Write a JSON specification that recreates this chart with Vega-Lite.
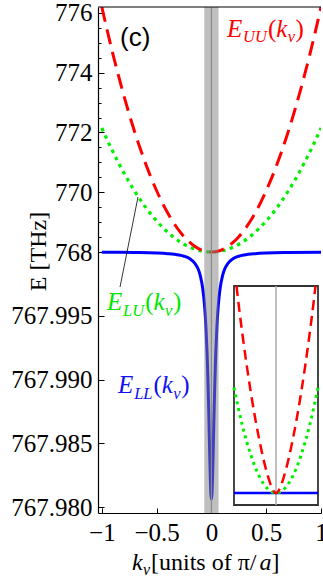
{
  "$schema": "https://vega.github.io/schema/vega-lite/v6.json",
  "width": 223,
  "height": 506,
  "autosize": {"type": "none"},
  "padding": {"left": 98, "top": 7, "right": 2, "bottom": 68},
  "background": "white",
  "data": {"values": [{}]},
  "datasets": {
    "red": [
      {"k": -1, "E": 776.2}, {"k": -0.95, "E": 775.4005}, {"k": -0.9, "E": 774.642}, {"k": -0.85, "E": 773.9245},
      {"k": -0.8, "E": 773.248}, {"k": -0.75, "E": 772.6125}, {"k": -0.7, "E": 772.018}, {"k": -0.65, "E": 771.4645},
      {"k": -0.6, "E": 770.952}, {"k": -0.55, "E": 770.4805}, {"k": -0.5, "E": 770.05}, {"k": -0.45, "E": 769.6605},
      {"k": -0.4, "E": 769.312}, {"k": -0.35, "E": 769.0045}, {"k": -0.3, "E": 768.738}, {"k": -0.25, "E": 768.5125},
      {"k": -0.2, "E": 768.328}, {"k": -0.15, "E": 768.1845}, {"k": -0.1, "E": 768.082}, {"k": -0.05, "E": 768.0205},
      {"k": 0, "E": 768},
      {"k": 0.05, "E": 768.0205}, {"k": 0.1, "E": 768.082}, {"k": 0.15, "E": 768.1845}, {"k": 0.2, "E": 768.328},
      {"k": 0.25, "E": 768.5125}, {"k": 0.3, "E": 768.738}, {"k": 0.35, "E": 769.0045}, {"k": 0.4, "E": 769.312},
      {"k": 0.45, "E": 769.6605}, {"k": 0.5, "E": 770.05}, {"k": 0.55, "E": 770.4805}, {"k": 0.6, "E": 770.952},
      {"k": 0.65, "E": 771.4645}, {"k": 0.7, "E": 772.018}, {"k": 0.75, "E": 772.6125}, {"k": 0.8, "E": 773.248},
      {"k": 0.85, "E": 773.9245}, {"k": 0.9, "E": 774.642}, {"k": 0.95, "E": 775.4005}, {"k": 1, "E": 776.2}
    ],
    "green": [
      {"k": -1, "E": 772.15}, {"k": -0.95, "E": 771.7454}, {"k": -0.9, "E": 771.3615}, {"k": -0.85, "E": 770.9984},
      {"k": -0.8, "E": 770.656}, {"k": -0.75, "E": 770.3344}, {"k": -0.7, "E": 770.0335}, {"k": -0.65, "E": 769.7534},
      {"k": -0.6, "E": 769.494}, {"k": -0.55, "E": 769.2554}, {"k": -0.5, "E": 769.0375}, {"k": -0.45, "E": 768.8404},
      {"k": -0.4, "E": 768.664}, {"k": -0.35, "E": 768.5084}, {"k": -0.3, "E": 768.3735}, {"k": -0.25, "E": 768.2594},
      {"k": -0.2, "E": 768.166}, {"k": -0.15, "E": 768.0934}, {"k": -0.1, "E": 768.0415}, {"k": -0.05, "E": 768.0104},
      {"k": 0, "E": 768},
      {"k": 0.05, "E": 768.0104}, {"k": 0.1, "E": 768.0415}, {"k": 0.15, "E": 768.0934}, {"k": 0.2, "E": 768.166},
      {"k": 0.25, "E": 768.2594}, {"k": 0.3, "E": 768.3735}, {"k": 0.35, "E": 768.5084}, {"k": 0.4, "E": 768.664},
      {"k": 0.45, "E": 768.8404}, {"k": 0.5, "E": 769.0375}, {"k": 0.55, "E": 769.2554}, {"k": 0.6, "E": 769.494},
      {"k": 0.65, "E": 769.7534}, {"k": 0.7, "E": 770.0335}, {"k": 0.75, "E": 770.3344}, {"k": 0.8, "E": 770.656},
      {"k": 0.85, "E": 770.9984}, {"k": 0.9, "E": 771.3615}, {"k": 0.95, "E": 771.7454}, {"k": 1, "E": 772.15}
    ],
    "blue": [
      {"k": -1, "E": 767.99998}, {"k": -0.7, "E": 767.99996}, {"k": -0.5, "E": 767.99992}, {"k": -0.4, "E": 767.99987},
      {"k": -0.3, "E": 767.99977}, {"k": -0.25, "E": 767.99967}, {"k": -0.2, "E": 767.99949}, {"k": -0.15, "E": 767.9991},
      {"k": -0.12, "E": 767.99864}, {"k": -0.1, "E": 767.99809}, {"k": -0.08, "E": 767.99718}, {"k": -0.07, "E": 767.99647},
      {"k": -0.06, "E": 767.99549}, {"k": -0.05, "E": 767.99411}, {"k": -0.04, "E": 767.99214}, {"k": -0.035, "E": 767.99087},
      {"k": -0.03, "E": 767.98938}, {"k": -0.025, "E": 767.98767}, {"k": -0.02, "E": 767.98581}, {"k": -0.015, "E": 767.98392},
      {"k": -0.01, "E": 767.98223}, {"k": -0.005, "E": 767.98104}, {"k": 0, "E": 767.9806},
      {"k": 0.005, "E": 767.98104}, {"k": 0.01, "E": 767.98223}, {"k": 0.015, "E": 767.98392}, {"k": 0.02, "E": 767.98581},
      {"k": 0.025, "E": 767.98767}, {"k": 0.03, "E": 767.98938}, {"k": 0.035, "E": 767.99087}, {"k": 0.04, "E": 767.99214},
      {"k": 0.05, "E": 767.99411}, {"k": 0.06, "E": 767.99549}, {"k": 0.07, "E": 767.99647}, {"k": 0.08, "E": 767.99718},
      {"k": 0.1, "E": 767.99809}, {"k": 0.12, "E": 767.99864}, {"k": 0.15, "E": 767.9991}, {"k": 0.2, "E": 767.99949},
      {"k": 0.25, "E": 767.99967}, {"k": 0.3, "E": 767.99977}, {"k": 0.4, "E": 767.99987}, {"k": 0.5, "E": 767.99992},
      {"k": 0.7, "E": 767.99996}, {"k": 1, "E": 767.99998}
    ],
    "ired": [
      {"ki": -0.94, "hi": 1.0}, {"ki": -0.9, "hi": 0.929}, {"ki": -0.8, "hi": 0.768}, {"ki": -0.7, "hi": 0.621},
      {"ki": -0.6, "hi": 0.487}, {"ki": -0.5, "hi": 0.366}, {"ki": -0.4, "hi": 0.259}, {"ki": -0.3, "hi": 0.165},
      {"ki": -0.2, "hi": 0.087}, {"ki": -0.15, "hi": 0.054}, {"ki": -0.1, "hi": 0.027}, {"ki": -0.05, "hi": 0.0074},
      {"ki": 0, "hi": 0},
      {"ki": 0.05, "hi": 0.0074}, {"ki": 0.1, "hi": 0.027}, {"ki": 0.15, "hi": 0.054}, {"ki": 0.2, "hi": 0.087},
      {"ki": 0.3, "hi": 0.165}, {"ki": 0.4, "hi": 0.259}, {"ki": 0.5, "hi": 0.366}, {"ki": 0.6, "hi": 0.487},
      {"ki": 0.7, "hi": 0.621}, {"ki": 0.8, "hi": 0.768}, {"ki": 0.9, "hi": 0.929}, {"ki": 0.94, "hi": 1.0}
    ],
    "igreen": [
      {"ki": -1, "hi": 0.51}, {"ki": -0.9, "hi": 0.413}, {"ki": -0.8, "hi": 0.326}, {"ki": -0.7, "hi": 0.25},
      {"ki": -0.6, "hi": 0.184}, {"ki": -0.5, "hi": 0.1275}, {"ki": -0.4, "hi": 0.0816}, {"ki": -0.3, "hi": 0.0459},
      {"ki": -0.2, "hi": 0.0204}, {"ki": -0.1, "hi": 0.0051}, {"ki": 0, "hi": 0},
      {"ki": 0.1, "hi": 0.0051}, {"ki": 0.2, "hi": 0.0204}, {"ki": 0.3, "hi": 0.0459}, {"ki": 0.4, "hi": 0.0816},
      {"ki": 0.5, "hi": 0.1275}, {"ki": 0.6, "hi": 0.184}, {"ki": 0.7, "hi": 0.25}, {"ki": 0.8, "hi": 0.326},
      {"ki": 0.9, "hi": 0.413}, {"ki": 1, "hi": 0.51}
    ],
    "iblue": [
      {"ki": -1, "hi": 0}, {"ki": 1, "hi": 0}
    ]
  },
  "layer": [
    {
      "layer": [
        {
          "data": {"name": "blue"},
          "mark": {"type": "line", "color": "#0000ff", "strokeWidth": 3, "interpolate": "monotone", "clip": true},
          "encoding": {
            "x": {"field": "k", "type": "quantitative", "scale": {"domain": [-1.035, 1], "nice": false, "zero": false},
              "axis": {"values": [-1, -0.5, 0, 0.5, 1], "tickCount": 20, "format": "~g", "title": null, "tickSize": -5, "labelPadding": 12, "labelOverlap": false, "labelFlush": false}},
            "y": {"field": "E", "type": "quantitative", "scale": {"domain": [767.97953, 768, 776.2], "range": [506, 245, 0], "nice": false, "zero": false},
              "axis": {
                "values": [767.98, 767.985, 767.99, 767.995, 768, 768.5, 769, 769.5, 770, 770.5, 771, 771.5, 772, 772.5, 773, 773.5, 774, 774.5, 775, 775.5, 776],
                "tickCount": 60,
                "labelExpr": "datum.value >= 768 ? (datum.value % 2 == 0 ? format(datum.value, 'd') : '') : format(datum.value, '.3f')",
                "labelFontSize": {"condition": {"test": "datum.value > 768 && datum.value % 2 != 0", "value": 1}, "value": 25},
                "tickSize": {"condition": {"test": "datum.value > 768 && datum.value % 2 != 0", "value": -3}, "value": -6},
                "labelPadding": 12,
                "labelOverlap": false,
                "labelFlush": false,
                "title": "E [THz]",
                "titleX": -53, "titleY": 244, "titleAngle": -90, "titleBaseline": "alphabetic", "titleAlign": "center"
              }}
          }
        },
        {
          "data": {"name": "green"},
          "mark": {"type": "line", "color": "#00f000", "strokeWidth": 3.2, "strokeDash": [3.5, 4.5], "interpolate": "monotone", "clip": true},
          "encoding": {
            "x": {"field": "k", "type": "quantitative", "scale": {"domain": [-1.035, 1], "nice": false, "zero": false}, "title": null},
            "y": {"field": "E", "type": "quantitative", "scale": {"domain": [767.97953, 768, 776.2], "range": [506, 245, 0], "nice": false, "zero": false}, "title": "E [THz]"}
          }
        },
        {
          "data": {"name": "red"},
          "mark": {"type": "line", "color": "#ff0000", "strokeWidth": 3, "strokeDash": [15, 8], "interpolate": "monotone", "clip": true},
          "encoding": {
            "x": {"field": "k", "type": "quantitative", "scale": {"domain": [-1.035, 1], "nice": false, "zero": false}, "title": null},
            "y": {"field": "E", "type": "quantitative", "scale": {"domain": [767.97953, 768, 776.2], "range": [506, 245, 0], "nice": false, "zero": false}, "title": "E [THz]"}
          }
        },
        {
          "mark": {"type": "rect", "color": "#808080", "opacity": 0.5},
          "encoding": {
            "x": {"datum": -0.065, "type": "quantitative"}, "x2": {"datum": 0.065},
            "y": {"datum": 767.97953, "type": "quantitative"}, "y2": {"datum": 776.2}
          }
        },
        {
          "mark": {"type": "rule", "color": "#8a8a8a", "strokeWidth": 1.2},
          "encoding": {"x": {"datum": 0, "type": "quantitative"}}
        },
        {
          "mark": {"type": "rule", "color": "black", "strokeWidth": 1.2},
          "encoding": {"y": {"datum": 776.2, "type": "quantitative"}}
        },
        {
          "mark": {"type": "rule", "color": "black", "strokeWidth": 0.8},
          "encoding": {
            "x": {"datum": -0.834, "type": "quantitative"}, "x2": {"datum": -0.67},
            "y": {"datum": 767.99725, "type": "quantitative"}, "y2": {"datum": 769.84}
          }
        },
        {
          "mark": {"type": "text", "text": "(c)", "font": "Liberation Sans", "fontStyle": "normal", "fontSize": 26, "color": "black"},
          "encoding": {"x": {"datum": -0.834, "type": "quantitative"}, "y": {"datum": 774.895, "type": "quantitative"}}
        },
        {
          "encoding": {"x": {"datum": 0.142, "type": "quantitative"}, "y": {"datum": 775.196, "type": "quantitative"}, "color": {"value": "#ff0000"}},
          "layer": [
            {"mark": {"type": "text", "text": "E"}},
            {"mark": {"type": "text", "text": "UU", "dx": 16.1, "dy": 5.5, "fontSize": 16.5}},
            {"mark": {"type": "text", "text": "(", "dx": 40.9, "fontStyle": "normal"}},
            {"mark": {"type": "text", "text": "k", "dx": 49.3}},
            {"mark": {"type": "text", "text": "ν", "dx": 60.7, "dy": 5.5, "fontSize": 16.5}},
            {"mark": {"type": "text", "text": ")", "dx": 68.6, "fontStyle": "normal"}}
          ]
        },
        {
          "encoding": {"x": {"datum": -0.953, "type": "quantitative"}, "y": {"datum": 767.99545, "type": "quantitative"}, "color": {"value": "#00e600"}},
          "layer": [
            {"mark": {"type": "text", "text": "E"}},
            {"mark": {"type": "text", "text": "LU", "dx": 16.1, "dy": 5.5, "fontSize": 16.5}},
            {"mark": {"type": "text", "text": "(", "dx": 38.2, "fontStyle": "normal"}},
            {"mark": {"type": "text", "text": "k", "dx": 46.6}},
            {"mark": {"type": "text", "text": "ν", "dx": 58, "dy": 5.5, "fontSize": 16.5}},
            {"mark": {"type": "text", "text": ")", "dx": 65.9, "fontStyle": "normal"}}
          ]
        },
        {
          "encoding": {"x": {"datum": -0.852, "type": "quantitative"}, "y": {"datum": 767.98894, "type": "quantitative"}, "color": {"value": "#1010f0"}},
          "layer": [
            {"mark": {"type": "text", "text": "E"}},
            {"mark": {"type": "text", "text": "LL", "dx": 16.1, "dy": 5.5, "fontSize": 16.5}},
            {"mark": {"type": "text", "text": "(", "dx": 35.4, "fontStyle": "normal"}},
            {"mark": {"type": "text", "text": "k", "dx": 43.8}},
            {"mark": {"type": "text", "text": "ν", "dx": 55.2, "dy": 5.5, "fontSize": 16.5}},
            {"mark": {"type": "text", "text": ")", "dx": 63.1, "fontStyle": "normal"}}
          ]
        },
        {
          "encoding": {"x": {"datum": -0.7245, "type": "quantitative"}, "y": {"datum": 767.97506, "type": "quantitative"}, "color": {"value": "black"}},
          "layer": [
            {"mark": {"type": "text", "text": "k", "fontSize": 24}},
            {"mark": {"type": "text", "text": "ν", "dx": 11, "dy": 5, "fontSize": 16}},
            {"mark": {"type": "text", "text": "[units of π/", "dx": 19, "fontStyle": "normal", "fontSize": 24}},
            {"mark": {"type": "text", "text": "a", "dx": 127.5, "fontSize": 24}},
            {"mark": {"type": "text", "text": "]", "dx": 139.5, "fontStyle": "normal", "fontSize": 24}}
          ]
        }
      ]
    },
    {
      "layer": [
        {
          "mark": {"type": "rect", "fill": "white", "stroke": "#333333", "strokeWidth": 1.8},
          "encoding": {
            "x": {"datum": -1, "type": "quantitative", "scale": {"domain": [-1, 1], "range": [136, 220], "nice": false, "zero": false}, "axis": null},
            "x2": {"datum": 1},
            "y": {"datum": -0.058, "type": "quantitative", "scale": {"domain": [-0.058, 1], "range": [498, 279], "nice": false, "zero": false}, "axis": null},
            "y2": {"datum": 1}
          }
        },
        {
          "mark": {"type": "rule", "color": "#aaaaaa", "strokeWidth": 1.5},
          "encoding": {
            "x": {"datum": 0, "type": "quantitative", "axis": null},
            "y": {"datum": -0.058, "type": "quantitative", "axis": null},
            "y2": {"datum": 1}
          }
        },
        {
          "data": {"name": "iblue"},
          "mark": {"type": "line", "color": "#0000ff", "strokeWidth": 2.5},
          "encoding": {
            "x": {"field": "ki", "type": "quantitative", "scale": {"domain": [-1, 1], "range": [136, 220], "nice": false, "zero": false}, "axis": null},
            "y": {"field": "hi", "type": "quantitative", "scale": {"domain": [-0.058, 1], "range": [498, 279], "nice": false, "zero": false}, "axis": null}
          }
        },
        {
          "data": {"name": "igreen"},
          "mark": {"type": "line", "color": "#00f000", "strokeWidth": 3, "strokeDash": [3, 4], "interpolate": "monotone"},
          "encoding": {
            "x": {"field": "ki", "type": "quantitative", "scale": {"domain": [-1, 1], "range": [136, 220], "nice": false, "zero": false}, "axis": null},
            "y": {"field": "hi", "type": "quantitative", "scale": {"domain": [-0.058, 1], "range": [498, 279], "nice": false, "zero": false}, "axis": null}
          }
        },
        {
          "data": {"name": "ired"},
          "mark": {"type": "line", "color": "#ff0000", "strokeWidth": 2.5, "strokeDash": [10, 6], "interpolate": "monotone"},
          "encoding": {
            "x": {"field": "ki", "type": "quantitative", "scale": {"domain": [-1, 1], "range": [136, 220], "nice": false, "zero": false}, "axis": null},
            "y": {"field": "hi", "type": "quantitative", "scale": {"domain": [-0.058, 1], "range": [498, 279], "nice": false, "zero": false}, "axis": null}
          }
        }
      ]
    }
  ],
  "resolve": {"scale": {"x": "independent", "y": "independent"}},
  "config": {
    "view": {"stroke": null},
    "axis": {
      "domainColor": "black", "domainWidth": 1.2, "tickColor": "black", "tickWidth": 1,
      "grid": false, "labelFont": "Liberation Serif", "labelFontSize": 25, "labelColor": "black",
      "labelOverlap": false, "labelFlush": false, "labelBound": false,
      "titleFont": "Liberation Serif", "titleFontSize": 24, "titleFontWeight": "normal", "titleColor": "black"
    },
    "text": {"font": "Liberation Serif", "fontSize": 25, "fontStyle": "italic", "align": "left", "baseline": "alphabetic"}
  }
}
